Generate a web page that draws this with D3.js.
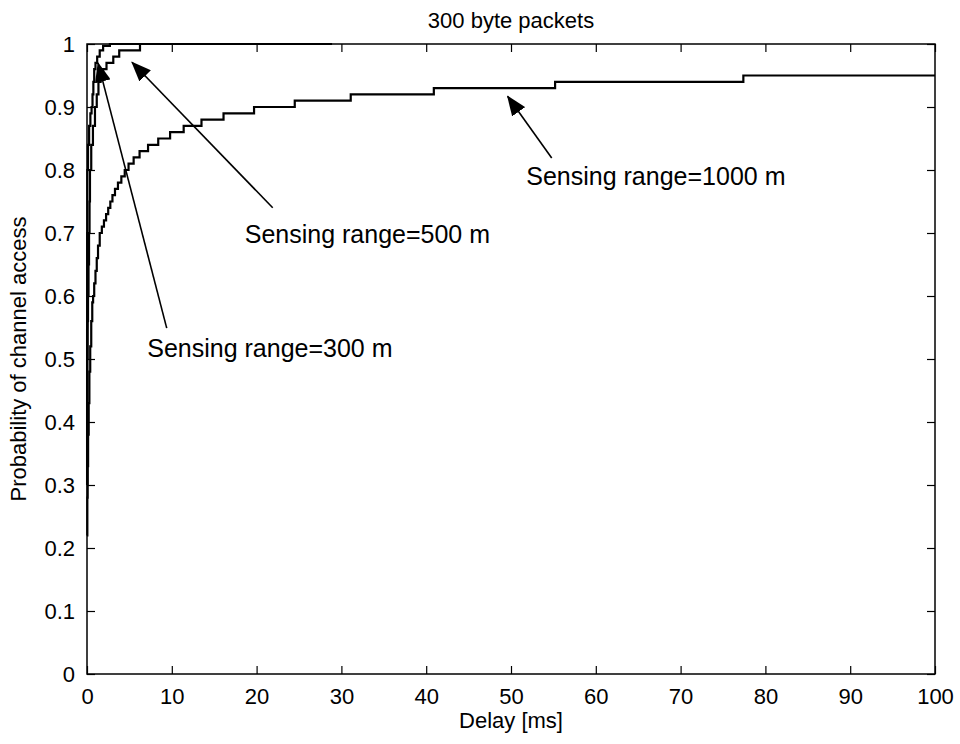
<!DOCTYPE html>
<html>
<head>
<meta charset="utf-8">
<script src="https://cdn.jsdelivr.net/npm/d3@7"></script>
<style>
  body { margin: 0; background: #fff; }
  text { font-family: "Liberation Sans", Arial, sans-serif; fill: #000; }
</style>
</head>
<body>
<div id="root"></div>
<script>
// chart data (x = delay in ms, y = cumulative probability)
let xTicks = [0, 10, 20, 30, 40, 50, 60, 70, 80, 90, 100];
let yTicks = [0, 0.1, 0.2, 0.3, 0.4, 0.5, 0.6, 0.7, 0.8, 0.9, 1];

let range300 = [[0,0.30],[0.01,0.55],[0.02,0.70],[0.04,0.80],[0.12,0.84],[0.25,0.87],[0.4,0.89],[0.54,0.90],
  [0.65,0.92],[0.75,0.94],[0.85,0.96],[1.0,0.97],[1.2,0.98],[1.5,0.99],[1.9,0.997],[2.7,1.0],[14.4,1.0]];

let range500 = [[0,0.30],[0.02,0.42],[0.04,0.50],[0.08,0.56],[0.12,0.60],[0.18,0.65],[0.24,0.70],[0.3,0.75],
  [0.35,0.80],[0.5,0.84],[0.7,0.87],[0.94,0.90],[1.15,0.92],[1.35,0.94],[1.6,0.95],[1.9,0.96],[2.3,0.97],
  [3.1,0.98],[3.8,0.99],[6.25,1.0],[28.9,1.0]];

let range1000 = [[0,0.22],[0.04,0.28],[0.08,0.33],[0.13,0.38],[0.2,0.43],[0.28,0.48],[0.38,0.52],[0.5,0.56],
  [0.62,0.59],[0.72,0.60],[0.85,0.62],[1.0,0.64],[1.15,0.66],[1.3,0.68],[1.5,0.70],[1.75,0.71],[2.0,0.72],
  [2.25,0.73],[2.5,0.74],[2.75,0.75],[3.0,0.76],[3.3,0.77],[3.65,0.78],[4.05,0.79],[4.45,0.80],[4.9,0.81],
  [5.5,0.82],[6.2,0.83],[7.2,0.84],[8.4,0.85],[9.8,0.86],[11.4,0.87],[13.5,0.88],[16.1,0.89],[19.7,0.90],
  [24.5,0.91],[31.1,0.92],[40.9,0.93],[55.2,0.94],[77.4,0.95],[100,0.95]];

// annotations: label, text anchor (x, y), arrow tail, arrow tip (data units)
let noteLabels = ["Sensing range=1000 m", "Sensing range=500 m", "Sensing range=300 m"];
let noteText = [[51.8, 0.776], [18.6, 0.684], [7.1, 0.503]];
let noteTail = [[54.8, 0.819], [21.9, 0.740], [9.4, 0.549]];
let noteTip = [[49.6, 0.917], [5.3, 0.971], [1.3, 0.970]];

let W = 960, H = 744;
let padL = 87, padR = 935, padT = 44, padB = 674;

let svg = d3.select('#root').append('svg')
  .attr('width', W).attr('height', H);

let x = d3.scaleLinear().domain([0, 100]).range([padL, padR]);
let y = d3.scaleLinear().domain([0, 1]).range([padB, padT]);

// curves
let line = d3.line().x(d => x(d[0])).y(d => y(d[1])).curve(d3.curveStepAfter);
[range1000, range500, range300].forEach(s => {
  svg.append('path').attr('d', line(s))
    .attr('fill', 'none').attr('stroke', '#000').attr('stroke-width', 2.2)
    .attr('stroke-linejoin', 'miter');
});

// box + inward ticks on all sides
let tl = 8;
svg.append('g').attr('transform', `translate(0,${padB})`)
  .call(d3.axisBottom(x).tickValues(xTicks).tickSize(-tl).tickPadding(tl + 6).tickFormat(d3.format('d')))
  .call(g => g.select('.domain').remove());
svg.append('g').attr('transform', `translate(0,${padT})`)
  .call(d3.axisTop(x).tickValues(xTicks).tickSize(-tl).tickFormat(''))
  .call(g => g.select('.domain').remove());
svg.append('g').attr('transform', `translate(${padL},0)`)
  .call(d3.axisLeft(y).tickValues(yTicks).tickSize(-tl).tickPadding(tl + 4).tickFormat(d => String(+d.toFixed(1))))
  .call(g => g.select('.domain').remove());
svg.append('g').attr('transform', `translate(${padR},0)`)
  .call(d3.axisRight(y).tickValues(yTicks).tickSize(-tl).tickFormat(''))
  .call(g => g.select('.domain').remove());

svg.selectAll('.tick line').attr('stroke', '#000').attr('stroke-width', 1.2);
svg.selectAll('.tick text').style('font-size', '22px').attr('fill', '#000');

svg.append('rect')
  .attr('x', padL).attr('y', padT).attr('width', padR - padL).attr('height', padB - padT)
  .attr('fill', 'none').attr('stroke', '#000').attr('stroke-width', 1.5);

// titles
svg.append('text').attr('x', (padL + padR) / 2).attr('y', 28)
  .attr('text-anchor', 'middle').style('font-size', '22px').text('300 byte packets');
svg.append('text').attr('x', (padL + padR) / 2).attr('y', 728)
  .attr('text-anchor', 'middle').style('font-size', '22px').text('Delay [ms]');
svg.append('text').attr('transform', `translate(26,${(padT + padB) / 2}) rotate(-90)`)
  .attr('text-anchor', 'middle').style('font-size', '22px').text('Probability of channel access');

// arrows
svg.append('defs').append('marker')
  .attr('id', 'head').attr('viewBox', '0 0 20 16').attr('refX', 19).attr('refY', 8)
  .attr('markerWidth', 20).attr('markerHeight', 16).attr('markerUnits', 'userSpaceOnUse')
  .attr('orient', 'auto')
  .append('path').attr('d', 'M0,0 L20,8 L0,16 Z').attr('fill', '#000');

noteLabels.forEach((t, i) => {
  svg.append('line')
    .attr('x1', x(noteTail[i][0])).attr('y1', y(noteTail[i][1]))
    .attr('x2', x(noteTip[i][0])).attr('y2', y(noteTip[i][1]))
    .attr('stroke', '#000').attr('stroke-width', 1.6)
    .attr('marker-end', 'url(#head)');
  svg.append('text').attr('x', x(noteText[i][0])).attr('y', y(noteText[i][1]))
    .style('font-size', '25px').text(t);
});
</script>
</body>
</html>
